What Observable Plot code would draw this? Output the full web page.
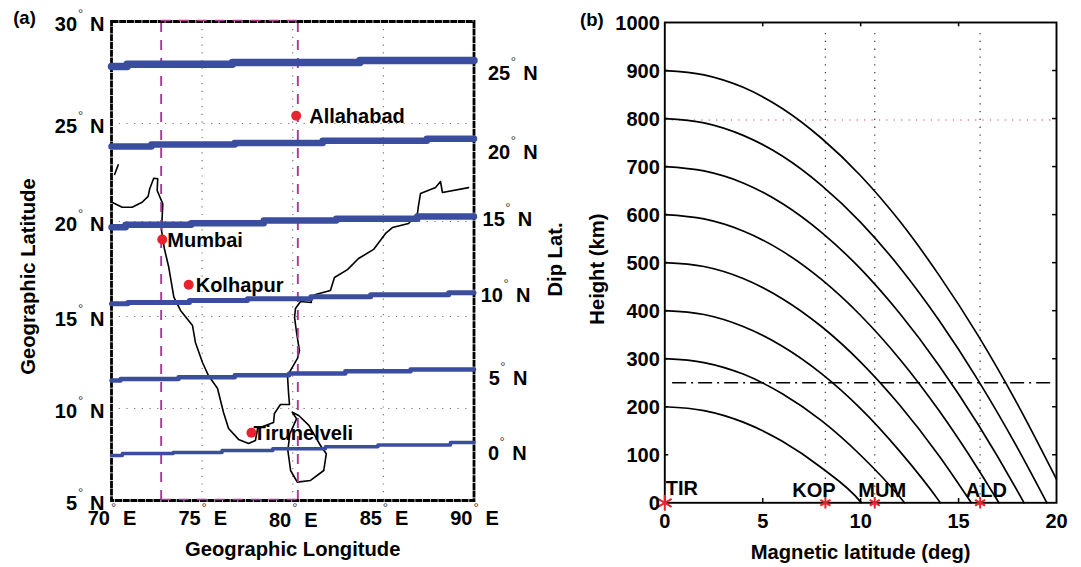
<!DOCTYPE html>
<html>
<head>
<meta charset="utf-8">
<script src="https://cdn.jsdelivr.net/npm/d3@7"></script>
<script src="https://cdn.jsdelivr.net/npm/@observablehq/plot@0.6"></script>
<style>
html,body{margin:0;padding:0;background:#fff;width:1081px;height:567px;overflow:hidden}
.panel{position:absolute;top:0}
svg{display:block;overflow:visible}
</style>
</head>
<body>
<div id="a" class="panel" style="left:0"></div>
<div id="b" class="panel" style="left:575px"></div>
<script>
// ---------- Panel (a): map data, [longitude, geographic latitude] ----------
const dip25 = [[70,27.79],[70.86,27.9],[76.67,27.99],[83.7,28.09],[90,28.09]];
const dip20 = [[70,23.83],[72.2,23.93],[76.8,24.01],[81.65,24.12],[87.4,24.22],[90,24.22]];
const dip15 = [[70,19.7],[70.78,19.83],[74.4,19.91],[78.4,20.05],[82.4,20.14],[86.87,20.26],[90,20.26]];
const dip10 = [[70,15.67],[70.9,15.74],[74.3,15.84],[77.5,15.93],[81,16.04],[84.3,16.14],[88.6,16.25],[90,16.25]];
const dip5  = [[70,11.52],[70.5,11.61],[73.7,11.7],[76.8,11.81],[79.8,11.9],[82.9,12.03],[86.5,12.12],[90,12.12]];
const dip0  = [[70,7.45],[70.6,7.55],[73.4,7.61],[76.1,7.72],[78.9,7.81],[81.8,7.92],[84.7,8.02],[88.7,8.15],[90,8.15]];
const dipLines = [dip25, dip20, dip15, dip10, dip5, dip0];
const dipWidths = [7.5, 6.5, 6.5, 5, 4.5, 3.5];

const coastTick = [[70.17,22.4],[70.37,22.89]];
const coastMain = [[70,20.99],[70.59,20.73],[71.14,20.73],[71.69,20.98],[72.02,21.28],[72.11,21.67],[72.33,22.21],[72.55,22.18],[72.52,21.58],[72.83,20.9],[72.76,19.53],[72.92,18.56],[73.16,17.59],[73.44,16.02],[73.81,15.32],[74.47,14.51],[74.63,13.59],[75.02,12.5],[75.35,11.79],[75.85,11.09],[76.18,9.78],[76.46,8.91],[77.01,8.32],[77.56,8.1],[77.94,8.26],[78.06,8.91],[78.94,9.24],[78.99,9.73],[79.32,10.22],[79.82,10.22],[79.77,10.82],[79.71,11.79],[80.26,12.72],[80.37,13.15],[80.21,14.13],[80.1,14.95],[80.15,15.42],[80.43,15.79],[81.03,15.74],[80.98,15.95],[81.26,16.16],[82.08,16.37],[82.3,17.05],[83.02,17.47],[83.63,18.05],[84.46,18.53],[85.12,19.37],[85.5,19.68],[86.39,19.89],[86.88,20.41],[86.94,20.82],[87.05,21.43],[87.88,21.73],[88.15,22.04],[88.26,21.48],[89.7,21.73]];
const coastLanka = [[79.97,9.8],[80.33,9.62],[80.89,9.08],[81.53,7.99],[81.85,7.54],[81.71,6.63],[80.98,6.09],[80.25,6],[79.88,6.63],[79.73,7.72],[79.84,8.62],[80.21,9.44],[79.97,9.8]];

const cityNames = ["Allahabad","Mumbai","Kolhapur","Tirunelveli"];
const cityLon = [80.19,72.8,74.26,77.72];
const cityLat = [25.38,19.05,16.67,8.68];
const cityGap = [13,5,7,2];

const latTicks = [5,10,15,20,25,30];
const lonTicks = [70,75,80,85,90];
const latGrid = [10,15,20,25];
const lonGrid = [75,80,85];
const boxLon = [72.74,80.28];
const dipLabels = ["25","20","15","10","5","0"];
const dipLabelLat = [27.47,23.54,20.1,16.11,11.63,7.57];
const dipLabelLon = [92,92,91.7,91.6,91.43,91.39];
const dipLabelRows = dipLabels.map((t,i)=>({t,lat:dipLabelLat[i],lon:dipLabelLon[i]}));

// ---------- Panel (b): field lines, [magnetic latitude, height km] ----------
const line200 = [[0,200],[2,192],[4,168],[6,128],[8,73],[10,2],[10.04,0]];
const line300 = [[0,300],[2,292],[4,268],[6,227],[8,171],[10,99],[12,12],[12.24,0]];
const line400 = [[0,400],[2,392],[4,367],[6,326],[8,269],[10,196],[12,107],[14,4],[14.07,0]];
const line500 = [[0,500],[2,492],[4,467],[6,425],[8,367],[10,293],[12,203],[14,98],[15.65,0]];
const line600 = [[0,600],[2,591],[4,566],[6,524],[8,465],[10,390],[12,299],[14,192],[16,70],[17.06,0]];
const line700 = [[0,700],[2,691],[4,666],[6,623],[8,563],[10,487],[12,394],[14,286],[16,163],[18,25],[18.34,0]];
const line800 = [[0,800],[2,791],[4,765],[6,722],[8,661],[10,584],[12,490],[14,380],[16,255],[18,115],[19.51,0]];
const line900 = [[0,900],[2,891],[4,865],[6,821],[8,759],[10,681],[12,586],[14,474],[16,348],[18,206],[20,49]];
const fieldLines = [line200,line300,line400,line500,line600,line700,line800,line900];

const stationNames = ["TIR","KOP","MUM","ALD"];
const stationLat = [0,8.2,10.72,16.1];
const stationDx = [17,-11.5,7.4,6.3];
const stationDy = [-14,-12,-12,-12];
const stationR = [7.5,5.5,5.5,5.5];
const heightTicks = d3.range(0,1001,100);
const magTicks = [0,5,10,15,20];
const refHeight = 250;
const redHeight = 797;

const font = "'Liberation Sans', Arial, sans-serif";
const black = "#000";
const common = {fontFamily:font, fontWeight:"bold", fill:black, stroke:null};
const tickFs = 20, titleFs = 20.2;

// ---------- draw panel a ----------
const deg = {fontFamily:font, fontSize:13, fill:"#333", stroke:null, text:()=>"°"};
const plotA = Plot.plot({
  width:575, height:567,
  marginLeft:111, marginRight:101.5, marginTop:21, marginBottom:67,
  style:{background:"transparent", fontFamily:font, overflow:"visible"},
  x:{domain:[70,90], axis:null},
  y:{type:"linear", domain:latTicks, range:[500,408,316,221,123,21], axis:null},
  marks:[
    // grid
    Plot.ruleX(lonGrid,{x:d=>d, y1:5, y2:30, stroke:"#777", strokeWidth:1.2, strokeDasharray:"1.2 6.5"}),
    Plot.ruleY(latGrid,{y:d=>d, x1:70, x2:90, stroke:"#777", strokeWidth:1.2, strokeDasharray:"1.2 6.5"}),
    // coast
    ...[coastTick,coastMain,coastLanka].map(c=>Plot.line(c,{x:d=>d[0],y:d=>d[1],stroke:black,strokeWidth:1.6,curve:"linear"})),
    // dashed box
    Plot.ruleX(boxLon,{x:d=>d, y1:5, y2:30, stroke:"#a93a8f", strokeWidth:1.9, strokeDasharray:"10 8"}),
    // frame
    Plot.frame({stroke:black, strokeWidth:2.8, strokeDasharray:"7 0.7"}),
    Plot.ruleY([30,5],{y:d=>d, x1:boxLon[0], x2:boxLon[1], stroke:"#a93a8f", strokeWidth:1.4, strokeDasharray:"10 8", dy:-1}),
    // dip latitude lines
    ...dipLines.map((l,i)=>Plot.line(l,{x:d=>d[0],y:d=>d[1],stroke:"#3a4d9f",strokeWidth:dipWidths[i],curve:"step-after",strokeLinecap:"round",strokeLinejoin:"round"})),
    // cities
    Plot.dot(cityNames,{x:(d,i)=>cityLon[i],y:(d,i)=>cityLat[i],r:5,fill:"#e8232f",stroke:null}),
    ...cityNames.map((name,i)=>Plot.text([name],{x:()=>cityLon[i],y:()=>cityLat[i],text:d=>d,textAnchor:"start",dx:cityGap[i],dy:1,...common,fontSize:tickFs})),
    // latitude labels (left)
    Plot.text(latTicks,{x:()=>68.1,y:d=>d,text:d=>String(d),textAnchor:"end",dy:3.5,...common,fontSize:tickFs}),
    Plot.text(latTicks,{...deg,x:()=>68.1,y:d=>d,textAnchor:"middle",dx:3.5,dy:-8}),
    Plot.text(latTicks,{x:()=>68.1,y:d=>d,text:()=>"N",textAnchor:"start",dx:13,dy:3.5,...common,fontSize:tickFs}),
    // longitude labels (bottom)
    Plot.text(lonTicks.filter(d=>d!==80),{x:d=>d,y:()=>5,text:d=>String(d),textAnchor:"end",dx:-1.5,dy:18.5,...common,fontSize:tickFs}),
    Plot.text([80],{x:d=>d,y:()=>5,text:d=>String(d),textAnchor:"end",dx:-1.5,dy:20,...common,fontSize:tickFs}),
    Plot.text(lonTicks,{...deg,x:d=>d,y:()=>5,textAnchor:"middle",dx:2,dy:7}),
    Plot.text(lonTicks.filter(d=>d!==80),{x:d=>d,y:()=>5,text:()=>"E",textAnchor:"start",dx:11.5,dy:18.5,...common,fontSize:tickFs}),
    Plot.text([80],{x:d=>d,y:()=>5,text:()=>"E",textAnchor:"start",dx:11.5,dy:20,...common,fontSize:tickFs}),
    // dip labels (right)
    Plot.text(dipLabelRows,{x:"lon",y:"lat",text:"t",textAnchor:"end",...common,fontSize:tickFs}),
    Plot.text(dipLabelRows,{...deg,x:"lon",y:"lat",textAnchor:"middle",dx:3,dy:-11.5}),
    Plot.text(dipLabelRows,{x:"lon",y:"lat",text:()=>"N",textAnchor:"start",dx:13,...common,fontSize:tickFs}),
    // titles
    Plot.text(["Geographic Latitude"],{frameAnchor:"left",textAnchor:"middle",dx:-83,dy:15.5,rotate:-90,...common,fontSize:titleFs}),
    Plot.text(["Dip Lat."],{frameAnchor:"right",textAnchor:"middle",dx:81.5,dy:-1.5,rotate:-90,...common,fontSize:titleFs}),
    Plot.text(["Geographic Longitude"],{frameAnchor:"bottom",dy:55,...common,fontSize:titleFs}),
    Plot.text(["(a)"],{frameAnchor:"top-left",dx:-87,dy:-3,textAnchor:"middle",...common,fontSize:18.5,lineAnchor:"middle"})
  ]
});
document.getElementById("a").append(plotA);

// ---------- draw panel b ----------
const plotB = Plot.plot({
  width:506, height:567,
  marginLeft:89.3, marginRight:25, marginTop:22, marginBottom:64.7,
  style:{background:"transparent", fontFamily:font, overflow:"visible"},
  x:{domain:[0,20], axis:null},
  y:{domain:[0,1000], axis:null},
  marks:[
    Plot.ruleX(stationLat.slice(1),{x:d=>d,y1:0,y2:985,stroke:"#444",strokeWidth:1.3,strokeDasharray:"1.3 6.5"}),
    Plot.ruleY([redHeight],{y:d=>d,x1:0,x2:20,stroke:"#e0304a",strokeWidth:1.2,strokeDasharray:"1.2 6.2"}),
    Plot.ruleY([refHeight],{y:d=>d,x1:0.4,x2:19.75,stroke:black,strokeWidth:1.4,strokeDasharray:"14 5 2 5"}),
    ...fieldLines.map(l=>Plot.line(l,{x:d=>d[0],y:d=>d[1],stroke:black,strokeWidth:1.7,curve:"monotone-x"})),
    // inward ticks
    Plot.ruleX([5,10,15],{x:d=>d,y1:0,y2:9,stroke:black,strokeWidth:1.5}),
    Plot.ruleX([5,10,15],{x:d=>d,y1:1000,y2:991,stroke:black,strokeWidth:1.5}),
    Plot.ruleY(heightTicks.slice(1,-1),{y:d=>d,x1:0,x2:0.2,stroke:black,strokeWidth:1.5}),
    Plot.ruleY(heightTicks.slice(1,-1),{y:d=>d,x1:19.8,x2:20,stroke:black,strokeWidth:1.5}),
    Plot.frame({stroke:black,strokeWidth:1.9}),
    // station markers
    ...stationNames.map((name,i)=>Plot.dot([name],{x:()=>stationLat[i],y:()=>0,symbol:"asterisk",r:stationR[i],stroke:"#e8232f",strokeWidth:2})),
    ...stationNames.map((name,i)=>Plot.text([name],{x:()=>stationLat[i],y:()=>0,text:d=>d,textAnchor:"middle",dx:stationDx[i],dy:stationDy[i],...common,fontSize:tickFs})),
    // axes labels
    Plot.text(heightTicks,{x:()=>0,y:d=>d,text:d=>String(d),textAnchor:"end",dx:-5,dy:1,...common,fontSize:tickFs}),
    Plot.text(magTicks,{x:d=>d,y:()=>0,text:d=>String(d),textAnchor:"middle",dy:19,...common,fontSize:tickFs}),
    Plot.text(["Height (km)"],{frameAnchor:"left",textAnchor:"middle",dx:-67.7,dy:6.5,rotate:-90,...common,fontSize:titleFs}),
    Plot.text(["Magnetic latitude (deg)"],{frameAnchor:"bottom",dy:56,...common,fontSize:titleFs}),
    Plot.text(["(b)"],{frameAnchor:"top-left",dx:-73,dy:-2,textAnchor:"middle",...common,fontSize:18.5,lineAnchor:"middle"})
  ]
});
document.getElementById("b").append(plotB);
</script>
</body>
</html>
